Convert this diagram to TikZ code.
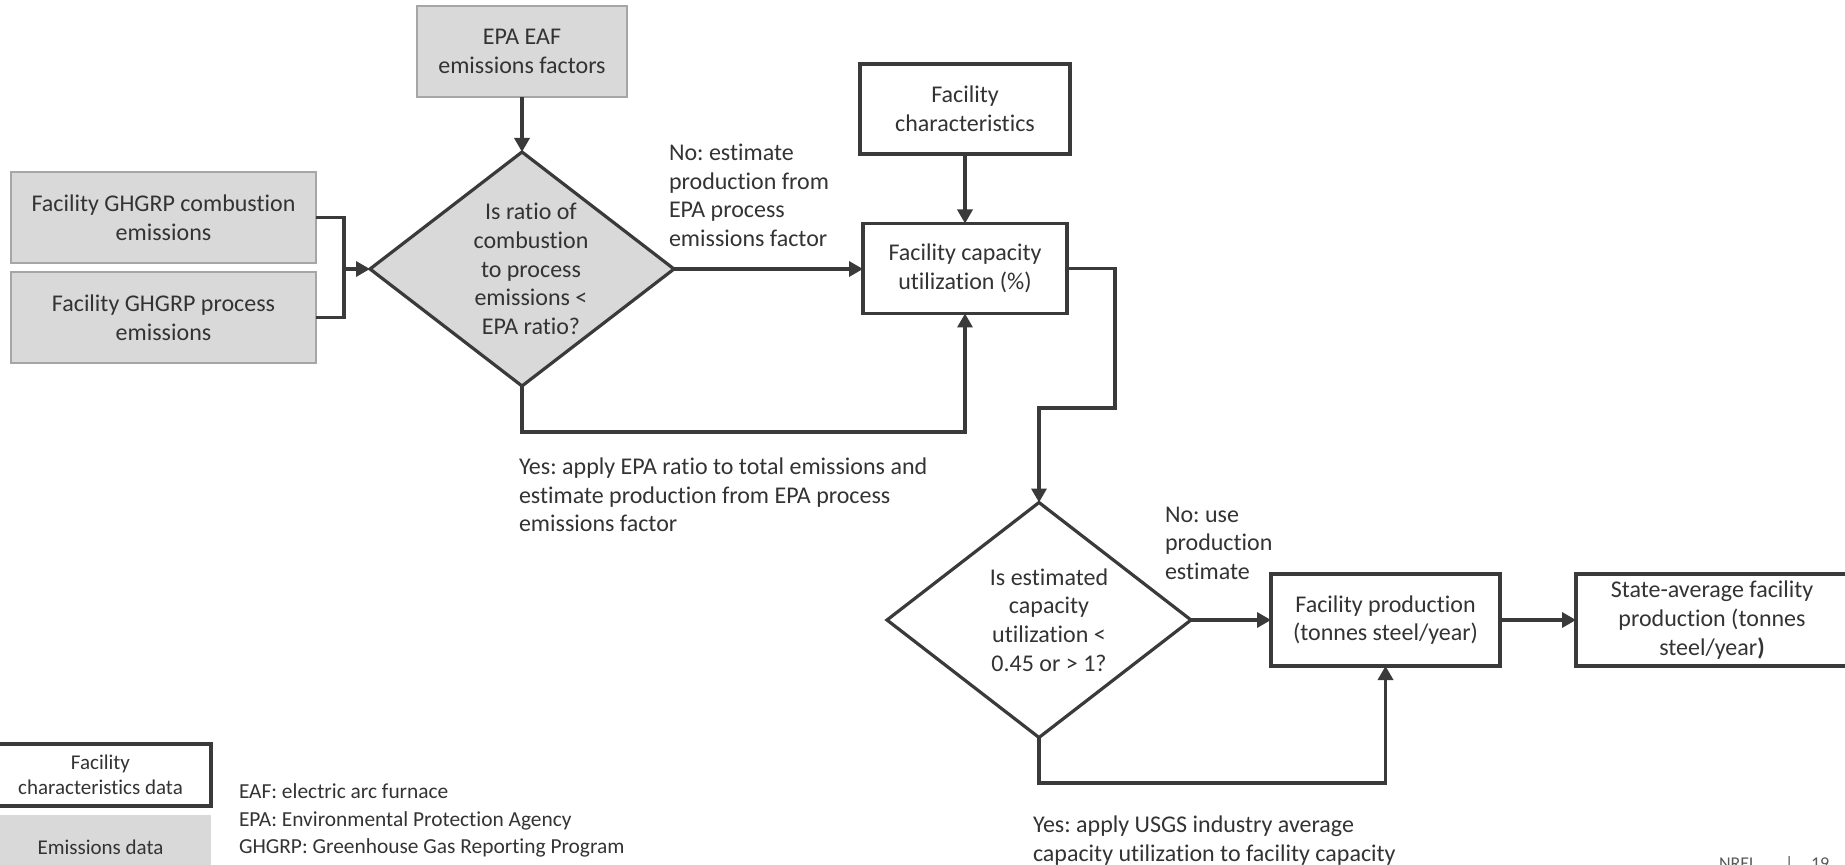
\documentclass[tikz,border=0pt]{standalone}
\usepackage{fontspec}
\setmainfont{Carlito}[Ligatures={NoCommon}]
\frenchspacing
\usetikzlibrary{arrows.meta,shapes.geometric}
\definecolor{ink}{HTML}{3A3A3A}
\definecolor{txt}{HTML}{333333}
\definecolor{boxgray}{HTML}{D9D9D9}
\definecolor{edgegray}{HTML}{A6A6A6}
\definecolor{footgray}{HTML}{595959}

\begin{document}
\begin{tikzpicture}[x=0.5pt,y=-0.5pt,
  every node/.style={text=txt, inner sep=0pt, outer sep=0pt},
  body/.style={font=\fontsize{12pt}{14.4pt}\selectfont, align=center},
  databox/.style={body, rectangle, draw=edgegray, line width=0.7pt, fill=boxgray},
  charbox/.style={body, rectangle, draw=ink, line width=1.7pt, fill=white},
  decision/.style={diamond, draw=ink, line width=1.6pt, minimum width=152pt, minimum height=117pt, aspect=1.3},
  note/.style={font=\fontsize{12pt}{14.3pt}\selectfont, align=left, anchor=north west},
  legendfont/.style={font=\fontsize{10.5pt}{12.5pt}\selectfont},
  footer/.style={anchor=base west, text=footgray, font=\fontsize{9pt}{10pt}\selectfont},
  flow/.style={draw=ink, line width=1.7pt, -{Triangle[length=7pt,width=7.5pt]}},
  link/.style={draw=ink, line width=1.7pt},
]
\useasboundingbox (0,0) rectangle (1845,865);
\clip (0,0) rectangle (1845,865);

% emissions inputs
\node[databox, minimum width=105pt, minimum height=45.5pt] (eaf) at (522,51.5) {EPA EAF\\emissions factors};
\node[databox, minimum width=152.5pt, minimum height=45.5pt] (comb) at (163.5,217.5) {Facility GHGRP combustion\\emissions};
\node[databox, minimum width=152.5pt, minimum height=45.5pt] (proc) at (163.5,317.5) {Facility GHGRP process\\emissions};

% first decision
\node[decision, fill=boxgray] (q1) at (522,269) {};
\node[body] (q1text) at (531,269) {Is ratio of\\combustion\\to process\\emissions <\\EPA ratio?};

% facility data and capacity utilization
\node[charbox, minimum width=105pt, minimum height=45pt] (fchar) at (965,109) {Facility\\characteristics};
\node[charbox, minimum width=102pt, minimum height=45pt] (cap) at (965,268.5) {Facility capacity\\utilization (\%)};

% second decision
\node[decision, fill=white, minimum height=117.5pt] (q2) at (1039,620) {};
\node[body] (q2text) at (1049,620) {Is estimated\\capacity\\utilization <\\0.45 or > 1?};

% production outputs
\node[charbox, minimum width=114.5pt, minimum height=46pt] (prod) at (1385.5,620) {Facility production\\(tonnes steel/year)};
\node[charbox, minimum width=136pt, minimum height=46pt] (state) at (1712,620) {State-average facility\\production (tonnes\\steel/year\textbf{)}};

% branch labels
\node[note] (nolab1) at (669,144) {No: estimate\\production from\\EPA process\\emissions factor};
\node[note] (yeslab1) at (519,458) {Yes: apply EPA ratio to total emissions and\\estimate production from EPA process\\emissions factor};
\node[note] (nolab2) at (1165,507) {No: use\\production\\estimate};
\node[note] (yeslab2) at (1033,816) {Yes: apply USGS industry average\\capacity utilization to facility capacity};

% legend
\node[charbox, legendfont, minimum width=110.5pt, minimum height=31pt] (legchar) at (100.5,775) {Facility\\characteristics data};
\node[fill=boxgray, legendfont, minimum width=110.5pt, minimum height=32pt] (legem) at (100.5,847) {Emissions data};
\node[anchor=north west, align=left, font=\fontsize{10.7pt}{13.75pt}\selectfont] (abbr) at (239,784) {EAF: electric arc furnace\\EPA: Environmental Protection Agency\\GHGRP: Greenhouse Gas Reporting Program\\USGS: United States Geological Survey};

% footer
\node[footer] (foot) at (1719,869) {NREL};
\node[footer] (bar) at (1785,869) {|};
\node[footer] (page) at (1811,869) {19};

% connectors
\coordinate (join) at (344,269);
\coordinate (loopA) at (965,432);
\coordinate (bendA) at (1115,408);
\coordinate (loopB) at (1385.5,783);

\draw[flow] (eaf.south) -- (q1.north);
\draw[link] (comb.east) -| (join);
\draw[link] (proc.east) -| (join);
\draw[flow] (join) -- (q1.west);
\draw[flow] (q1.east) -- (q1.east -| cap.west);
\draw[flow] (fchar.south) -- (cap.north);
\draw[flow] (q1.south) |- (loopA) -- (cap.south);
\draw[flow] (cap.east) -| (bendA) -| (q2.north);
\draw[flow] (q2.east) -- (prod.west);
\draw[flow] (prod.east) -- (state.west);
\draw[flow] (q2.south) |- (loopB) -- (prod.south);
\end{tikzpicture}
\end{document}
